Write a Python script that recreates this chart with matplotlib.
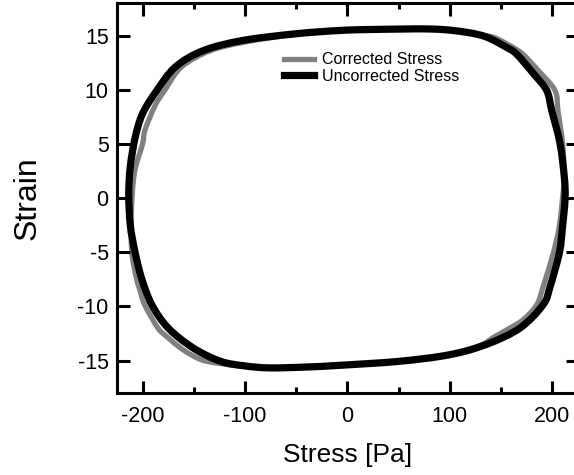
import numpy as np
import matplotlib
matplotlib.use('Agg')
import matplotlib.pyplot as plt
from matplotlib.path import Path
from matplotlib.patches import PathPatch
from matplotlib.lines import Line2D
from matplotlib.ticker import MultipleLocator

plt.rcParams['font.family'] = ['Liberation Sans', 'DejaVu Sans']
plt.rcParams['axes.unicode_minus'] = False

# Uncorrected loop (stress in Pa, strain), one lap
unc_stress = [-49.6, -7, 25, 83, 116, 136, 155.5, 165, 181.5, 194.5, 199.4, 207.5, 211.7, 212.5,
              210, 207, 197.8, 191, 168.5, 136, 100, 51, -7, -40, -76, -100, -124, -150.6, -175,
              -191, -201, -207.5, -212, -213.5, -212, -207.2, -200, -186, -168, -141, -102]
unc_strain = [15.17, 15.47, 15.56, 15.6, 15.3, 14.85, 13.9, 13.3, 11.5, 9.94, 8.1, 5.06, 1.96, 0.0,
              -2.64, -5.0, -8.2, -9.85, -12.0, -13.5, -14.46, -15.07, -15.44, -15.6, -15.68, -15.5,
              -15.07, -13.84, -12.0, -9.85, -7.4, -4.94, -2.5, 0.3, 2.9, 5.6, 7.8, 9.94, 12.1,
              13.6, 14.55]

# Corrected loop, one lap
cor_stress = [-49, -7, 25, 70, 100, 120, 142, 158, 171, 186, 202.6, 205.5, 210, 211.7, 210,
              206.8, 201, 191, 184.8, 172, 158.7, 142, 130, 100, 51, -7, -40, -76, -105, -137.5,
              -152, -163.6, -175, -185, -198, -202.6, -206, -210.5, -211, -208, -200, -197.7,
              -188, -178, -162, -134, -100]
cor_strain = [15.15, 15.45, 15.55, 15.6, 15.45, 15.2, 14.85, 14.1, 13.3, 11.8, 9.94, 8.1, 5.06,
              1.96, 0.0, -2.64, -5.07, -8.2, -9.85, -11.2, -12.0, -12.9, -13.6, -14.46, -15.07,
              -15.45, -15.6, -15.68, -15.5, -15.07, -14.5, -13.8, -12.9, -12.0, -9.85, -8.5,
              -7.4, -5.0, -1.4, 2.3, 5.0, 6.26, 8.5, 10.0, 12.1, 13.6, 14.4]


def closed_curve(xs, ys):
    # closed Catmull-Rom curve through the points, as cubic Bezier segments
    pts = np.column_stack([xs, ys]).astype(float)
    n = len(pts)
    verts = [pts[0]]
    codes = [Path.MOVETO]
    for i in range(n):
        p0, p1, p2, p3 = pts[i - 1], pts[i], pts[(i + 1) % n], pts[(i + 2) % n]
        verts += [p1 + (p2 - p0) / 6, p2 - (p3 - p1) / 6, p2]
        codes += [Path.CURVE4] * 3
    return Path(verts, codes)


fig = plt.figure(figsize=(5.74, 4.75), dpi=100)
ax = fig.add_axes([0.2038, 0.1726, 0.803, 0.821])

gray_lw, black_lw = 3.8, 5.2
ax.add_patch(PathPatch(closed_curve(cor_stress, cor_strain), fill=False,
                       edgecolor='#808080', lw=gray_lw, joinstyle='round'))
ax.add_patch(PathPatch(closed_curve(unc_stress, unc_strain), fill=False,
                       edgecolor='black', lw=black_lw, joinstyle='round'))

ax.set_xlim(-225, 225)
ax.set_ylim(-18, 18)
ax.xaxis.set_major_locator(MultipleLocator(100))
ax.xaxis.set_minor_locator(MultipleLocator(50))
ax.yaxis.set_major_locator(MultipleLocator(5))

for s in ax.spines.values():
    s.set_linewidth(2.2)
ax.tick_params(which='both', direction='in', top=True, right=True, width=2.2,
               labelsize=15.5)
ax.tick_params(which='major', length=9)
ax.tick_params(which='minor', length=4.5)
ax.tick_params(axis='x', pad=9)
ax.tick_params(axis='y', pad=6)

ax.set_xlabel('Stress [Pa]', fontsize=19, labelpad=12)
ax.set_ylabel('Strain', fontsize=23, labelpad=25)

handles = [Line2D([], [], color='#808080', lw=gray_lw),
           Line2D([], [], color='black', lw=black_lw)]
ax.legend(handles, ['Corrected Stress', 'Uncorrected Stress'], loc='upper left',
          bbox_to_anchor=(0.362, 0.874), frameon=False, fontsize=11.5,
          handlelength=1.9, handletextpad=0.5, labelspacing=0.1, borderpad=0,
          borderaxespad=0)

fig.savefig('out.png', dpi=100)
